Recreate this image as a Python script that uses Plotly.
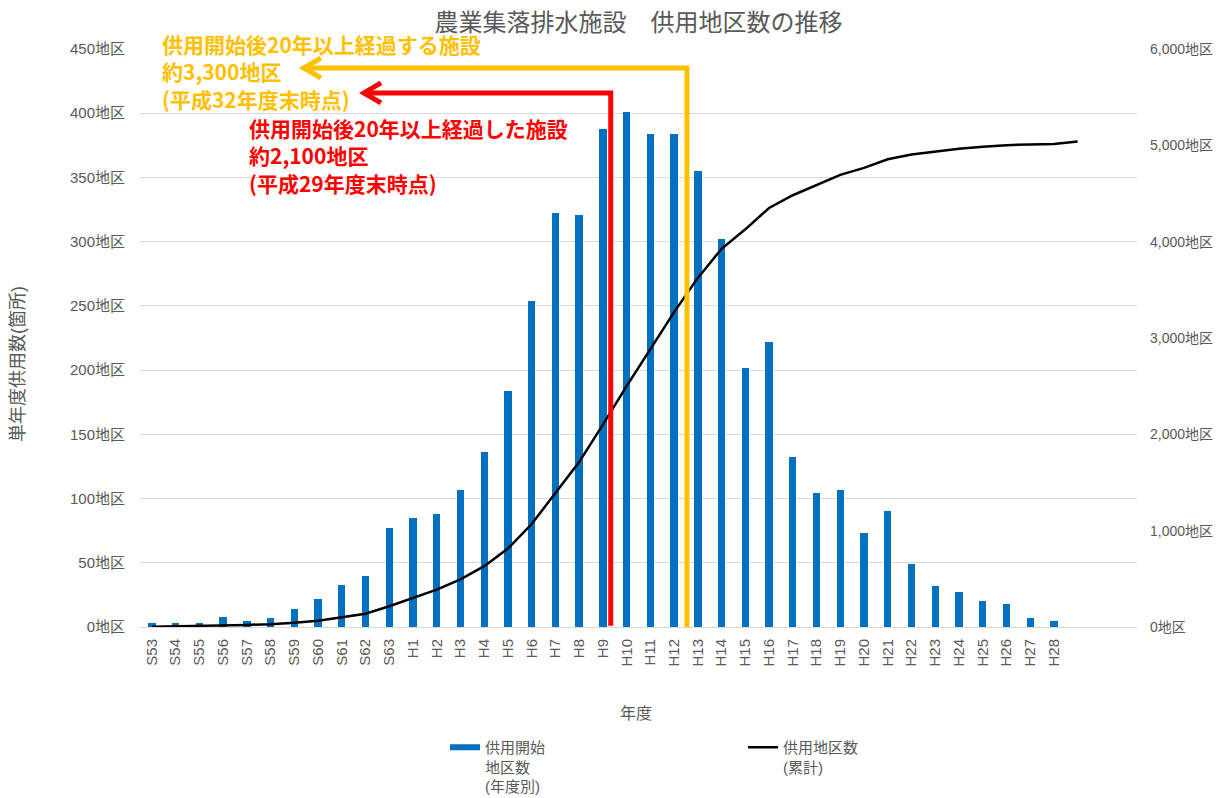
import plotly.graph_objects as go

# ---- data ----
years = ["S53", "S54", "S55", "S56", "S57", "S58", "S59", "S60", "S61", "S62", "S63",
         "H1", "H2", "H3", "H4", "H5", "H6", "H7", "H8", "H9", "H10",
         "H11", "H12", "H13", "H14", "H15", "H16", "H17", "H18", "H19", "H20",
         "H21", "H22", "H23", "H24", "H25", "H26", "H27", "H28"]
start_counts = [3, 3, 3, 8, 5, 7, 14, 22, 33, 40, 77,
                85, 88, 107, 136, 184, 254, 322, 321, 388, 401,
                384, 384, 355, 302, 202, 222, 132, 104, 107, 73,
                90, 49, 32, 27, 20, 18, 7, 5]
# cumulative series has one extra point (H29, unlabeled)
cumulative = [3, 6, 9, 17, 22, 29, 43, 65, 98, 138, 215,
              300, 388, 495, 631, 815, 1069, 1391, 1712, 2100, 2501,
              2885, 3269, 3624, 3926, 4128, 4350, 4482, 4586, 4693, 4766,
              4856, 4905, 4937, 4964, 4984, 5002, 5009, 5014, 5040]
n_slots = 42  # category slots on the axis

# annotation arrow geometry (category index units / left-axis units)
red_x, red_top, red_tip = 19.33, 415.8, 8.93
yel_x, yel_top, yel_tip = 22.54, 435.2, 6.40
arm_dx, arm_dy = 0.72, 7.8

BLUE = "#0070C0"
RED = "#FF0000"
YELLOW = "#FFC000"
GRAY = "#595959"
GRID = "#D9D9D9"
FONT = "Liberation Sans, Noto Sans CJK JP"
CJK = "Noto Sans CJK JP"

x_bar = list(range(len(years)))
x_line = list(range(len(cumulative)))

fig = go.Figure()
fig.add_trace(go.Bar(x=x_bar, y=start_counts, width=0.31, marker_color=BLUE,
                     marker_line_width=0, name="供用開始<br>地区数<br>(年度別)",
                     showlegend=False, legendgroup="bars", yaxis="y"))
fig.add_trace(go.Scatter(x=[None], y=[None], mode="lines",
                         line=dict(color=BLUE, width=6),
                         name="供用開始<br>地区数<br>(年度別)", legendgroup="bars"))
fig.add_trace(go.Scatter(x=x_line, y=cumulative, mode="lines",
                         line=dict(color="black", width=2.5),
                         name="供用地区数<br>(累計)", yaxis="y2"))


def arrow(x, top, tip, bottom, color):
    return [
        dict(type="path", xref="x", yref="y", layer="above",
             path=f"M {x},{bottom} L {x},{top} L {tip},{top}",
             line=dict(color=color, width=5)),
        dict(type="path", xref="x", yref="y", layer="above",
             path=f"M {tip + arm_dx},{top + arm_dy} L {tip},{top} L {tip + arm_dx},{top - arm_dy}",
             line=dict(color=color, width=5)),
    ]


shapes = arrow(yel_x, yel_top, yel_tip, -2, YELLOW) + arrow(red_x, red_top, red_tip, 1, RED)

notes = [
    ("供用開始後20年以上経過する施設<br>約3,300地区<br>(平成32年度末時点)", 0.0201, 0.9619, YELLOW),
    ("供用開始後20年以上経過した施設<br>約2,100地区<br>(平成29年度末時点)", 0.1073, 0.8149, RED),
]
annotations = [dict(text=f"<b>{t}</b>", x=x, y=y, xref="paper", yref="paper",
                    xanchor="left", yanchor="middle", align="left", showarrow=False,
                    font=dict(family=CJK, size=21, color=c)) for t, x, y, c in notes]
annotations.append(dict(text="年度", x=0.4975, y=-0.1471, xref="paper", yref="paper",
                        xanchor="center", yanchor="middle", showarrow=False,
                        font=dict(family=CJK, size=16, color=GRAY)))
annotations.append(dict(text="単年度供用数(箇所)", x=-0.1224, y=0.455,
                        xref="paper", yref="paper", xanchor="center", yanchor="middle",
                        textangle=-90, showarrow=False,
                        font=dict(family=FONT, size=18, color=GRAY)))

fig.update_layout(
    width=1227, height=798,
    margin=dict(l=140, r=90, t=49, b=171, autoexpand=False),
    paper_bgcolor="white", plot_bgcolor="white",
    font=dict(family=FONT, size=15, color=GRAY),
    title=dict(text="農業集落排水施設　供用地区数の推移", x=0.5, xref="paper", xanchor="center",
               y=1 - 23 / 798, yref="container", yanchor="middle",
               font=dict(family=CJK, size=24, color=GRAY)),
    xaxis=dict(range=[-0.5, n_slots - 0.5], tickmode="array", tickvals=x_bar, ticktext=years,
               tickangle=-90, showgrid=False, zeroline=False, showline=False, automargin=False,
               ticks="", ticklabelstandoff=8, tickfont=dict(size=15, color=GRAY)),
    yaxis=dict(range=[0, 450], tickmode="linear", tick0=0, dtick=50, ticksuffix="地区",
               showgrid=True, gridcolor=GRID, gridwidth=1, zeroline=True, zerolinecolor=GRID,
               zerolinewidth=1, showline=False, ticks="", ticklabelstandoff=14, automargin=False,
               tickfont=dict(size=15, color=GRAY)),
    yaxis2=dict(range=[0, 6000], overlaying="y", side="right", anchor="free", position=1,
                shift=12, autoshift=False, tickmode="linear",
                tick0=0, dtick=1000, tickformat=",", ticksuffix="地区", showgrid=False,
                automargin=False, zeroline=False, showline=False, ticks="",
                tickfont=dict(size=14, color=GRAY)),
    legend=dict(orientation="h", x=445 / 1227, y=1 - 731 / 798, xref="container",
                yref="container", xanchor="left", yanchor="top",
                entrywidth=253, entrywidthmode="pixels", valign="top",
                font=dict(family=FONT, size=15, color=GRAY), bgcolor="rgba(0,0,0,0)"),
    shapes=shapes,
    annotations=annotations,
    bargap=0,
)

fig.write_html("out.html")
